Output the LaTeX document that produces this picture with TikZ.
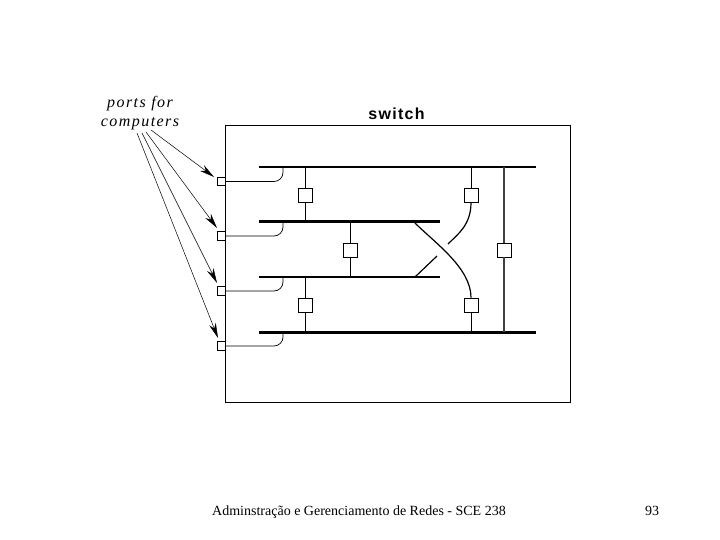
\documentclass[tikz,border=0pt]{standalone}
\usepackage{fontspec}
\setmainfont{Liberation Serif}
\setsansfont{Liberation Sans}
\usepackage{tikz}
\usetikzlibrary{arrows.meta,calc,positioning}

\begin{document}
\begin{tikzpicture}[
    x=1pt, y=-1pt,
    sw/.style={draw, fill=white, line width=0.9pt, minimum size=14pt, inner sep=0pt},
    port/.style={draw, fill=white, line width=0.8pt, minimum size=8.5pt, inner sep=0pt},
    bus/.style={line width=2.6pt},
    link/.style={line width=1pt},
    feed/.style={line width=0.7pt, rounded corners=9pt},
    pointer/.style={line width=0.5pt, -{Stealth[length=15pt,width=7pt]}}
]
\useasboundingbox (0,0) rectangle (720,540);

\node[draw, line width=1pt, minimum width=345pt, minimum height=276pt, inner sep=0pt] (chassis) at (397.5,264) {};
\node[font=\sffamily\bfseries\fontsize{16}{16}\selectfont\addfontfeature{LetterSpace=8}] (title) at (396.5,114) {switch};
\node[font=\itshape\fontsize{16}{19}\selectfont\addfontfeature{LetterSpace=9}, align=center] (label) at (140,113) {ports for\\computers};

% ports on the left side
\node[port] (p1) at (221.5,181.5) {};
\node[port] (p2) at (221.5,236) {};
\node[port] (p3) at (221.5,291) {};
\node[port] (p4) at (221.5,346) {};

% buses
\coordinate (b1w) at (259,167); \coordinate (b1e) at (536,167);
\coordinate (b2w) at (259,222); \coordinate (b2e) at (440,222);
\coordinate (b3w) at (259,277); \coordinate (b3e) at (440,277);
\coordinate (b4w) at (259,332); \coordinate (b4e) at (536,332);
\draw[bus] (b1w) -- (b1e);
\draw[bus, line width=3pt] (b2w) -- (b2e);
\draw[bus, line width=2pt] (b3w) -- (b3e);
\draw[bus, line width=3pt] (b4w) -- (b4e);

% port to bus
\coordinate (t1) at (283,167);
\coordinate (t2) at (283,222);
\coordinate (t3) at (283,277);
\coordinate (t4) at (283,332);
\foreach \n in {1,...,4} {
  \draw[feed] (p\n.east) -| (t\n);
}

% pointers from the label
\coordinate (a1) at (151,130);
\coordinate (a2) at (146,132);
\coordinate (a3) at (142,133);
\coordinate (a4) at (137,133);
\coordinate (h1) at (214,177);
\coordinate (h2) at (217,228);
\coordinate (h3) at (217,283);
\coordinate (h4) at (218,338);
\foreach \n in {1,...,4} {
  \draw[pointer] (a\n) -- (h\n);
}

% bridges between buses
\node[sw] (s1) at (305,195) {};
\node[sw] (s2) at (471,195) {};
\node[sw] (s3) at (350,250) {};
\node[sw] (s4) at (504,250) {};
\node[sw] (s5) at (305,305) {};
\node[sw] (s6) at (471,305) {};

\draw[link] (s1.north) -- (s1.north |- b1w);
\draw[link] (s1.south) -- (s1.south |- b2w);
\draw[link] (s2.north) -- (s2.north |- b1w);
\draw[link] (s3.north) -- (s3.north |- b2w);
\draw[link] (s3.south) -- (s3.south |- b3w);
\draw[link, line width=1.3pt, black!75] (s4.north) -- (s4.north |- b1w);
\draw[link, line width=1.3pt, black!75] (s4.south) -- (s4.south |- b4w);
\draw[link] (s5.north) -- (s5.north |- b3w);
\draw[link] (s5.south) -- (s5.south |- b4w);
\draw[link] (s6.south) -- (s6.south |- b4w);

% crossing
\coordinate (x1) at (415,223);
\coordinate (x2) at (448,244);
\coordinate (x3) at (415,277);
\coordinate (x4) at (437,256);
\draw[link, line width=1.2pt] (x1) .. controls (435,243) and (471,268) .. (s6.north);
\draw[link, line width=1.2pt] (s2.south) .. controls (471,225) and (458,234) .. (x2);
\draw[link, line width=1.2pt] (x3) -- (x4);

% slide footer
\node[font=\fontsize{14}{14}\selectfont, anchor=base] (footer) at (359,515) {Adminstração e Gerenciamento de Redes - SCE 238};
\node[font=\fontsize{14}{14}\selectfont, anchor=base] (page) at (652,515) {93};
\end{tikzpicture}
\end{document}
